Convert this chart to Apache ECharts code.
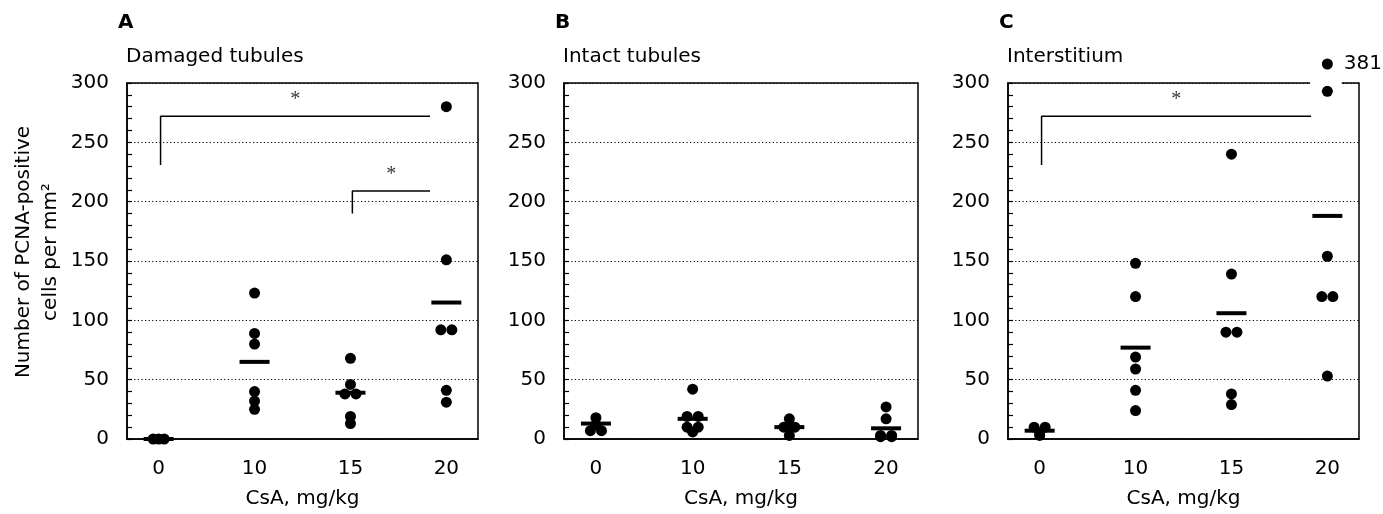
<!DOCTYPE html>
<html><head><meta charset="utf-8">
<script src="https://cdn.jsdelivr.net/npm/echarts@6/dist/echarts.min.js"></script>
<style>html,body{margin:0;padding:0;background:#fff}#c{width:1383px;height:514px}</style>
</head><body><div id="c"></div>
<script>
// ---- data ----
const doses = ['0', '10', '15', '20'];
const yTicks = [0, 50, 100, 150, 200, 250, 300];
const panelLetters = ['A', 'B', 'C'];
const panelTitles = ['Damaged tubules', 'Intact tubules', 'Interstitium'];
const xAxisTitle = 'CsA, mg/kg';
const yAxisTitle = 'Number of PCNA-positive\ncells per mm\u00B2';

const damagedTubules = [[0, 0, 0], [123, 89, 80, 40, 32, 25], [68, 46, 38, 38, 19, 13], [280, 151, 92, 92, 41, 31]];
const damagedMeans = [0, 65, 39, 115];
const intactTubules = [[18, 12, 7, 7], [42, 19, 19, 10, 10, 6], [17, 10, 10, 10, 3], [27, 17, 3, 3, 2, 2]];
const intactMeans = [13, 17, 10, 9];
const interstitium = [[10, 10, 5, 3], [148, 120, 69, 59, 41, 24], [240, 139, 90, 90, 38, 29], [381, 293, 154, 120, 120, 53]];
const interstitiumMeans = [7, 77, 106, 188];

// significance brackets: [fromGroup, toGroup, level, lowEnd]
const sigA = [[0, 3, 272, 231], [2, 3, 209, 190]];
const sigB = [];
const sigC = [[0, 3, 272, 231]];

// ---- layout / style ----
const FONT = 'DejaVu Sans';
const panels = [
  { data: damagedTubules, means: damagedMeans, sig: sigA, left: 127, width: 351 },
  { data: intactTubules, means: intactMeans, sig: sigB, left: 564, width: 354 },
  { data: interstitium, means: interstitiumMeans, sig: sigC, left: 1008, width: 351 }
];
const GRID_TOP = 83, GRID_H = 356;
const X_MIN = -0.33, X_MAX = 3.33, Y_MAX = yTicks[yTicks.length - 1];
const BREAK_Y = 316;      // where off-scale values are drawn (axis break)
const JITTER = 0.115;     // side-by-side spread for identical values

const chart = echarts.init(document.getElementById('c'), null, { renderer: 'canvas' });

const grid = [], xAxis = [], yAxis = [], series = [], graphic = [];

panels.forEach((p, i) => {
  grid.push({ left: p.left, top: GRID_TOP, width: p.width, height: GRID_H, show: true,
    borderColor: '#000', borderWidth: 1.5, backgroundColor: 'transparent' });
  xAxis.push({ type: 'value', gridIndex: i, min: X_MIN, max: X_MAX,
    axisLine: { show: true, onZero: false, lineStyle: { color: '#000', width: 1.5 } },
    axisTick: { show: false }, splitLine: { show: false },
    axisLabel: { customValues: [0, 1, 2, 3], formatter: v => doses[Math.round(v)],
      color: '#000', fontFamily: FONT, fontSize: 20, margin: 20 },
    name: xAxisTitle, nameLocation: 'middle', nameGap: 50,
    nameTextStyle: { color: '#000', fontFamily: FONT, fontSize: 20 } });
  yAxis.push({ type: 'value', gridIndex: i, min: yTicks[0], max: Y_MAX, interval: 50,
    axisLine: { show: true, onZero: false, lineStyle: { color: '#000', width: 1.5 } },
    axisTick: { show: true, inside: true, length: 5, lineStyle: { color: '#000', width: 1.2 } },
    minorTick: { show: true, splitNumber: 5, length: 5, lineStyle: { color: '#000', width: 1.2 } },
    axisLabel: { color: '#000', fontFamily: FONT, fontSize: 20, margin: 18 },
    splitLine: { show: true, lineStyle: { color: '#000', width: 1.2, type: [1.2, 2.4] } } });

  // dots
  const pts = [];
  p.data.forEach((vals, g) => {
    const counts = {};
    vals.forEach(v => counts[v] = (counts[v] || 0) + 1);
    const seen = {};
    vals.forEach(v => {
      const n = counts[v], k = seen[v] = (seen[v] || 0);
      seen[v]++;
      const off = n > 1 ? -JITTER / 2 + JITTER * k / (n - 1) : 0;
      const disp = v > Y_MAX ? BREAK_Y : v;
      pts.push({ value: [g + off, disp, v],
        label: { show: v > Y_MAX, formatter: String(v), position: 'right', distance: 11,
          color: '#000', fontFamily: FONT, fontSize: 20 } });
    });
  });
  series.push({ type: 'scatter', xAxisIndex: i, yAxisIndex: i, data: pts, symbol: 'circle',
    symbolSize: 11, itemStyle: { color: '#000', opacity: 1 }, clip: false, z: 4, silent: true });
  // mean bars
  series.push({ type: 'scatter', xAxisIndex: i, yAxisIndex: i,
    data: p.means.map((m, g) => [g, m]), symbol: 'rect', symbolSize: [30, 4],
    itemStyle: { color: '#000', opacity: 1 }, z: 4, clip: false, silent: true });
  // significance brackets
  p.sig.forEach(([a, b, lvl, low]) => {
    const x0 = a + 0.02, x1 = b - 0.17;
    series.push({ type: 'line', xAxisIndex: i, yAxisIndex: i, symbol: 'none',
      data: [[x0, low], [x0, lvl], [x1, lvl]], lineStyle: { color: '#000', width: 1.5 },
      z: 3, silent: true });
    series.push({ type: 'scatter', xAxisIndex: i, yAxisIndex: i, symbolSize: 1,
      data: [[(x0 + x1) / 2, lvl + 14]], itemStyle: { color: 'rgba(0,0,0,0)' },
      label: { show: true, position: 'inside', formatter: '*', color: '#000',
        fontFamily: 'Liberation Serif', fontSize: 20 }, z: 3, silent: true });
  });

  graphic.push({ type: 'text', left: p.left - 9, top: 13,
    style: { text: panelLetters[i], fill: '#000', fontFamily: FONT, fontWeight: 'bold', fontSize: 20 } });
  graphic.push({ type: 'text', left: p.left - 1, top: 47,
    style: { text: panelTitles[i], fill: '#000', fontFamily: FONT, fontSize: 20 } });
});

graphic.push({ type: 'text', x: 37, y: 252, rotation: Math.PI / 2,
  style: { text: yAxisTitle, fill: '#000', fontFamily: FONT, fontSize: 20,
    align: 'center', verticalAlign: 'middle', lineHeight: 27 } });

chart.setOption({ animation: false, backgroundColor: '#fff', grid, xAxis, yAxis, series, graphic });

// gap in panel C's top frame where the off-scale value sits
const gA = chart.convertToPixel({ gridIndex: 2 }, [2.82, Y_MAX]);
const gB = chart.convertToPixel({ gridIndex: 2 }, [3.15, Y_MAX]);
graphic.push({ type: 'rect', z: 10, shape: { x: gA[0], y: gA[1] - 2.5, width: gB[0] - gA[0], height: 5 },
  style: { fill: '#fff' } });
chart.setOption({ graphic });
</script></body></html>
